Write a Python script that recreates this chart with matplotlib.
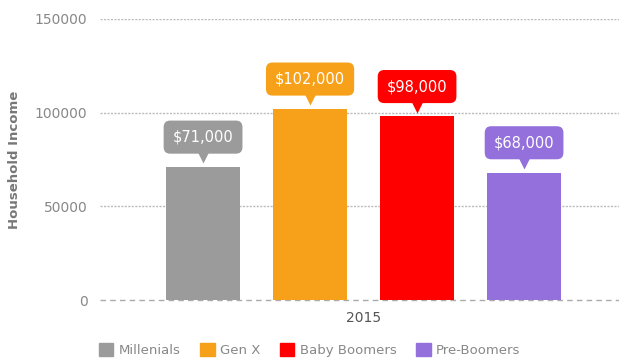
import matplotlib.pyplot as plt
from matplotlib.patches import Patch
from matplotlib.transforms import offset_copy

# Daten
generations = ["Millenials", "Gen X", "Baby Boomers", "Pre-Boomers"]
income = [71000, 102000, 98000, 68000]
labels = ["$71,000", "$102,000", "$98,000", "$68,000"]
colors = ["#9b9b9b", "#f7a11a", "#ff0000", "#9370db"]
year = "2015"
yticks = [0, 50000, 100000, 150000]

fig = plt.figure(figsize=(6.19, 3.6), dpi=100)
ax = fig.add_axes([100 / 619, 60 / 360, 519 / 619, 281 / 360])

xs = list(range(len(generations)))
ax.bar(xs, income, width=0.69, color=colors, zorder=2)

# Gitterlinien: gepunktet, Nulllinie gestrichelt
for v in yticks[1:]:
    ax.axhline(v, color="#bbbbbb", lw=1.0, ls=(0, (1.5, 1)), zorder=1)
ax.axhline(0, color="#aaaaaa", lw=1.0, ls=(0, (4, 3)), zorder=1, clip_on=False)

# Wert-Labels als Sprechblasen über den Balken
for x, v, t, c in zip(xs, income, labels, colors):
    ax.annotate(t, (x, v), xytext=(0, 21.5), textcoords="offset points",
                ha="center", va="center", color="white", fontsize=10.5,
                bbox=dict(boxstyle="round,pad=0.62,rounding_size=0.45",
                          fc=c, ec="none"), zorder=4)
    tr = offset_copy(ax.transData, fig=fig, x=0, y=7, units="points")
    ax.plot(x, v, marker="v", ms=9, color=c, mec="none",
            transform=tr, zorder=4, clip_on=False)

ax.set_xlim(-0.963, 3.887)
ax.set_ylim(0, 150000)
ax.set_yticks(yticks)
ax.set_yticklabels([str(v) for v in yticks])
ax.set_xticks([1.5])
ax.set_xticklabels([year])
ax.tick_params(axis="both", length=0, colors="#888888", labelsize=10)
ax.tick_params(axis="y", pad=9)
ax.tick_params(axis="x", pad=8, colors="#555555")
for s in ax.spines.values():
    s.set_visible(False)

ax.set_ylabel("Household Income", color="#777777", fontsize=9.5,
              fontweight="bold", labelpad=10)

handles = [Patch(color=c, label=g) for g, c in zip(generations, colors)]
fig.legend(handles=handles, loc="lower center", bbox_to_anchor=(0.5, -0.025),
           ncol=4, frameon=False, fontsize=9.5, labelcolor="#888888",
           handlelength=1.1, handleheight=1.1, handletextpad=0.4,
           columnspacing=1.5)

plt.savefig("out.png", dpi=100)
plt.close()
